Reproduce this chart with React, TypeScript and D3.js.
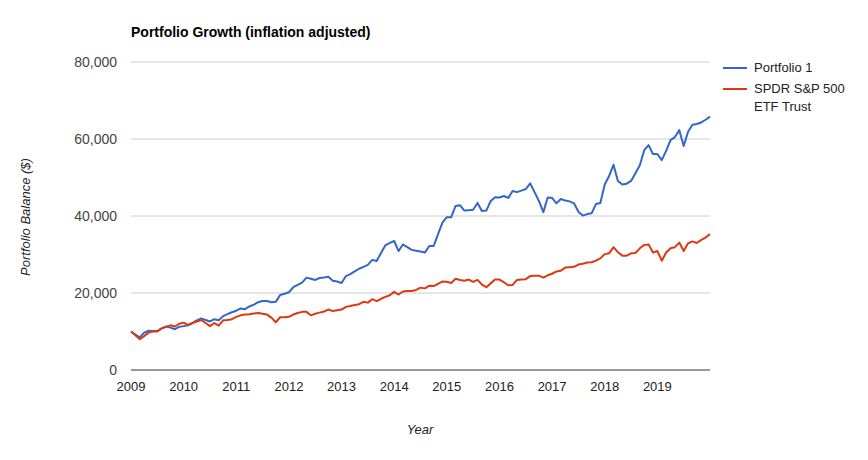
import React from "react";
import * as d3 from "d3";

const title = "Portfolio Growth (inflation adjusted)";
const seriesNames = ["Portfolio 1", "SPDR S&P 500 ETF Trust"];
const startYear = 2009;
const yTicks = [0, 20000, 40000, 60000, 80000];
const xTickYears = [2009, 2010, 2011, 2012, 2013, 2014, 2015, 2016, 2017, 2018, 2019];

// Monthly balances in thousands of dollars, Jan 2009 .. Jan 2020
const portfolio1 = [
  10.0, 9.2, 8.5, 9.7, 10.2, 10.1, 10.1, 10.8, 11.3, 11.0, 10.6, 11.2,
  11.4, 11.6, 12.2, 12.9, 13.4, 13.0, 12.6, 13.2, 12.9, 14.0, 14.5, 15.0,
  15.4, 16.0, 15.8, 16.5, 17.0, 17.6, 17.9, 17.9, 17.6, 17.7, 19.5, 19.8,
  20.2, 21.5, 22.1, 22.7, 24.0, 23.7, 23.4, 23.9, 24.0, 24.2, 23.2, 23.0,
  22.6, 24.4, 24.9, 25.6, 26.3, 26.8, 27.3, 28.6, 28.3, 30.4, 32.4, 33.0,
  33.5, 30.9, 32.6, 31.9, 31.2, 31.0, 30.8, 30.5, 32.2, 32.2, 35.3, 38.3,
  39.7, 39.7, 42.6, 42.8, 41.4, 41.5, 41.6, 43.4, 41.3, 41.4, 43.9, 44.9,
  44.8, 45.2, 44.7, 46.5, 46.2, 46.6, 47.0, 48.5, 46.2, 43.9, 41.0, 44.8,
  44.7, 43.3, 44.4, 44.0, 43.8, 43.3, 41.1, 40.1, 40.5, 40.7, 43.1, 43.4,
  48.2, 50.4, 53.3, 49.1, 48.2, 48.4, 49.1, 51.1, 53.2, 57.1, 58.4, 56.1,
  56.1, 54.5, 56.9, 59.7, 60.5, 62.3, 58.2, 61.9, 63.7, 63.9, 64.3, 65.0,
  65.8,
];
const spdr = [
  10.0, 9.0, 8.0, 8.8, 9.7, 10.0, 10.0, 10.8, 11.2, 11.6, 11.3, 12.0,
  12.3, 11.7, 12.2, 12.6, 13.0, 12.2, 11.4, 12.2, 11.5, 12.9, 13.0, 13.2,
  13.8, 14.2, 14.4, 14.5, 14.7, 14.8, 14.6, 14.4, 13.6, 12.4, 13.7, 13.7,
  13.8, 14.4, 14.8, 15.1, 15.1, 14.2, 14.6, 14.9, 15.2, 15.7, 15.3, 15.5,
  15.7, 16.4, 16.6, 16.9, 17.1, 17.7, 17.5, 18.4, 17.9, 18.5, 19.0, 19.4,
  20.3, 19.6, 20.4, 20.5, 20.5, 20.8, 21.4, 21.2, 21.9, 21.8, 22.4, 23.0,
  22.9, 22.6, 23.7, 23.4, 23.2, 23.5, 22.9, 23.4, 22.2, 21.5, 22.5, 23.5,
  23.5, 22.8, 22.0, 22.1, 23.4, 23.5, 23.6, 24.4, 24.5, 24.5, 24.0, 24.6,
  25.0, 25.6, 25.8, 26.6, 26.7, 26.8, 27.4, 27.6, 27.9, 28.0, 28.4, 29.0,
  30.1, 30.3, 31.9, 30.6, 29.7, 29.7, 30.3, 30.4, 31.6, 32.5, 32.6, 30.5,
  30.9, 28.4, 30.5, 31.6, 31.9, 33.1, 30.9, 32.9, 33.4, 33.0, 33.8, 34.4,
  35.3,
];

const colors = ["#3366CC", "#DC3912"];
const FONT = "Arial, 'Liberation Sans', sans-serif";

export default function App() {
  const W = 868, H = 460;
  const left = 131, right = 710, top = 62, bottom = 370;

  const x = d3.scaleLinear().domain([startYear, startYear + 11]).range([left, right]);
  const y = d3.scaleLinear().domain([0, 80000]).range([bottom, top]);

  const series = [portfolio1, spdr].map((vals) =>
    vals.map((v, i) => ({ t: startYear + i / 12, v: v * 1000 }))
  );
  const line = d3
    .line<{ t: number; v: number }>()
    .x((d) => x(d.t))
    .y((d) => y(d.v));

  const fmt = d3.format(",");

  return (
    <svg
      width={W}
      height={H}
      style={{ position: "absolute", left: 0, top: 0, background: "#fff" }}
      fontFamily={FONT}
    >
      <rect x={0} y={0} width={W} height={H} fill="#fff" />
      <text x={131} y={37} fontSize={14} fontWeight="bold" fill="#000">
        {title}
      </text>

      {yTicks.map((t) => (
        <g key={t}>
          {t !== 0 && (
            <line x1={left} x2={right} y1={y(t)} y2={y(t)} stroke="#cccccc" strokeWidth={1} />
          )}
          <text x={117} y={y(t) + 5} fontSize={14} fill="#444" textAnchor="end">
            {fmt(t)}
          </text>
        </g>
      ))}

      {xTickYears.map((yr) => (
        <text key={yr} x={x(yr)} y={391} fontSize={13} fill="#222" textAnchor="middle">
          {yr}
        </text>
      ))}

      {series.map((s, i) => (
        <path
          key={i}
          d={line(s) || ""}
          fill="none"
          stroke={colors[i]}
          strokeWidth={2}
          strokeLinejoin="round"
        />
      ))}

      <line x1={left} x2={right} y1={bottom} y2={bottom} stroke="#333" strokeWidth={1} />

      <text
        transform={`translate(30,${(top + bottom) / 2 + 1}) rotate(-90)`}
        fontSize={13}
        fontStyle="italic"
        fill="#222"
        textAnchor="middle"
      >
        Portfolio Balance ($)
      </text>
      <text x={420} y={434} fontSize={13} fontStyle="italic" fill="#222" textAnchor="middle">
        Year
      </text>

      <g>
        <line x1={723} x2={747} y1={68} y2={68} stroke={colors[0]} strokeWidth={2} />
        <text x={754} y={72} fontSize={13} fill="#222">
          {seriesNames[0]}
        </text>
        <line x1={723} x2={747} y1={89} y2={89} stroke={colors[1]} strokeWidth={2} />
        <text x={754} y={93} fontSize={13} fill="#222">
          SPDR S&amp;P 500
        </text>
        <text x={754} y={111} fontSize={13} fill="#222">
          ETF Trust
        </text>
      </g>
    </svg>
  );
}
